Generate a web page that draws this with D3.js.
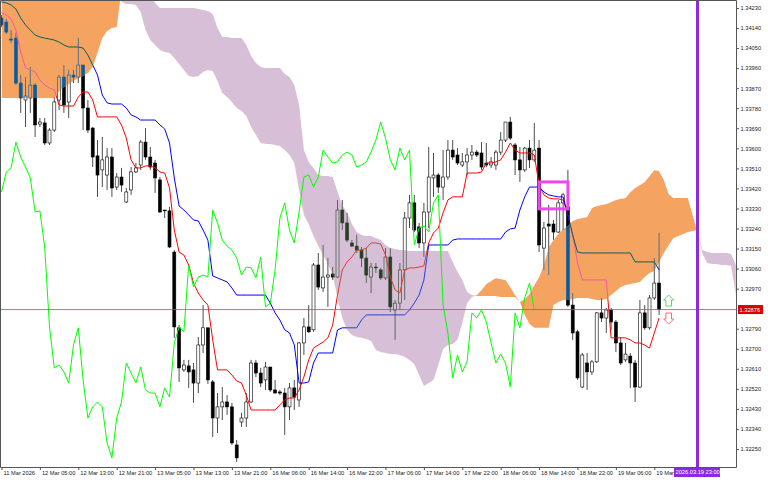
<!DOCTYPE html>
<html>
<head>
<meta charset="utf-8">
<script src="https://cdn.jsdelivr.net/npm/d3@7"></script>
<style>
  html, body { margin: 0; padding: 0; background: #fff; }
  svg { display: block; }
</style>
</head>
<body>
<div id="chart"></div>
<script>
// H1 candles, one entry per bar (bar 0 = 11 Mar 21:00)
const opens = [
  1.34185, 1.34167, 1.34091, 1.34095, 1.33893, 1.33817, 1.33826, 1.33884, 1.33709, 1.33714,
  1.33624, 1.33682, 1.33817, 1.33920, 1.33808, 1.33929, 1.33920, 1.33974, 1.33781, 1.33691,
  1.33566, 1.33503, 1.33480, 1.33561, 1.33426, 1.33471, 1.33359, 1.33413, 1.33494, 1.33525,
  1.33628, 1.33561, 1.33534, 1.33458, 1.33323, 1.33319, 1.33134, 1.32794, 1.32605, 1.32623,
  1.32605, 1.32546, 1.32717, 1.32794, 1.32551, 1.32389, 1.32439, 1.32461, 1.32439, 1.32268,
  1.32371, 1.32389, 1.32461, 1.32636, 1.32591, 1.32560, 1.32618, 1.32515, 1.32506, 1.32501,
  1.32439, 1.32524, 1.32470, 1.32726, 1.32798, 1.32785, 1.33076, 1.32973, 1.33022, 1.33036,
  1.33022, 1.33323, 1.33265, 1.33175, 1.33161, 1.33143, 1.33107, 1.33022, 1.33067, 1.33054,
  1.33018, 1.33112, 1.32874, 1.32905, 1.33054, 1.33287, 1.33355, 1.33247, 1.33175, 1.33314,
  1.33467, 1.33480, 1.33426, 1.33471, 1.33592, 1.33570, 1.33525, 1.33539, 1.33570, 1.33583,
  1.33579, 1.33534, 1.33525, 1.33525, 1.33583, 1.33637, 1.33718, 1.33615, 1.33548, 1.33503,
  1.33601, 1.33548, 1.33601, 1.33152, 1.33260, 1.33260, 1.33224, 1.33355, 1.33337, 1.32896,
  1.32776, 1.32528, 1.32636, 1.32596, 1.32641, 1.32861, 1.32838, 1.32874, 1.32820, 1.32726,
  1.32650, 1.32667, 1.32636, 1.32528, 1.32861, 1.32794, 1.32928, 1.32995
];
const highs = [
  1.34199, 1.34181, 1.34131, 1.34118, 1.33929, 1.33920, 1.33965, 1.33893, 1.33736, 1.33736,
  1.33691, 1.33830, 1.33929, 1.33974, 1.33952, 1.33952, 1.34095, 1.33974, 1.33817, 1.33696,
  1.33637, 1.33651, 1.33601, 1.33601, 1.33489, 1.33512, 1.33422, 1.33516, 1.33534, 1.33637,
  1.33691, 1.33606, 1.33548, 1.33471, 1.33323, 1.33337, 1.33143, 1.32807, 1.32650, 1.32650,
  1.32636, 1.32753, 1.32896, 1.32794, 1.32560, 1.32501, 1.32528, 1.32492, 1.32457, 1.32290,
  1.32412, 1.32501, 1.32650, 1.32650, 1.32614, 1.32641, 1.32618, 1.32560, 1.32515, 1.32524,
  1.32546, 1.32560, 1.32730, 1.32838, 1.32896, 1.33085, 1.33130, 1.33166, 1.33107, 1.33067,
  1.33368, 1.33368, 1.33310, 1.33188, 1.33211, 1.33157, 1.33152, 1.33085, 1.33085, 1.33063,
  1.33152, 1.33152, 1.32919, 1.33085, 1.33314, 1.33391, 1.33391, 1.33265, 1.33355, 1.33606,
  1.33579, 1.33489, 1.33592, 1.33637, 1.33637, 1.33601, 1.33579, 1.33601, 1.33615, 1.33592,
  1.33628, 1.33624, 1.33561, 1.33592, 1.33673, 1.33718, 1.33741, 1.33624, 1.33606, 1.33606,
  1.33637, 1.33714, 1.33637, 1.33269, 1.33346, 1.33278, 1.33368, 1.33400, 1.33503, 1.32950,
  1.32785, 1.32681, 1.32681, 1.32650, 1.32865, 1.32928, 1.32883, 1.32883, 1.32829, 1.32753,
  1.32726, 1.32681, 1.32650, 1.32919, 1.32896, 1.32941, 1.33107, 1.33220
];
const lows = [
  1.34145, 1.34113, 1.34073, 1.33884, 1.33759, 1.33696, 1.33759, 1.33651, 1.33696, 1.33615,
  1.33615, 1.33673, 1.33772, 1.33759, 1.33736, 1.33893, 1.33893, 1.33682, 1.33669, 1.33516,
  1.33382, 1.33426, 1.33413, 1.33382, 1.33413, 1.33404, 1.33355, 1.33391, 1.33489, 1.33503,
  1.33548, 1.33503, 1.33400, 1.33310, 1.33287, 1.33152, 1.32749, 1.32551, 1.32596, 1.32524,
  1.32457, 1.32501, 1.32681, 1.32542, 1.32304, 1.32322, 1.32380, 1.32403, 1.32268, 1.32192,
  1.32349, 1.32349, 1.32457, 1.32573, 1.32528, 1.32515, 1.32506, 1.32501, 1.32492, 1.32313,
  1.32380, 1.32425, 1.32439, 1.32672, 1.32771, 1.32776, 1.32964, 1.32955, 1.32888, 1.33009,
  1.33018, 1.33233, 1.33179, 1.33157, 1.33130, 1.33067, 1.32995, 1.32950, 1.33040, 1.33009,
  1.33009, 1.32865, 1.32740, 1.32874, 1.32919, 1.33242, 1.33224, 1.33152, 1.33112, 1.33242,
  1.33382, 1.33400, 1.33368, 1.33458, 1.33548, 1.33525, 1.33516, 1.33480, 1.33548, 1.33561,
  1.33503, 1.33516, 1.33512, 1.33503, 1.33570, 1.33628, 1.33637, 1.33480, 1.33449, 1.33494,
  1.33512, 1.33539, 1.33134, 1.33054, 1.33031, 1.33188, 1.33220, 1.33233, 1.32888, 1.32740,
  1.32560, 1.32524, 1.32515, 1.32582, 1.32636, 1.32820, 1.32771, 1.32785, 1.32685, 1.32627,
  1.32641, 1.32524, 1.32461, 1.32524, 1.32785, 1.32785, 1.32919, 1.32852
];
const closes = [
  1.34154, 1.34122, 1.34086, 1.33893, 1.33826, 1.33835, 1.33884, 1.33705, 1.33718, 1.33624,
  1.33682, 1.33808, 1.33920, 1.33795, 1.33929, 1.33920, 1.33974, 1.33781, 1.33682, 1.33561,
  1.33480, 1.33548, 1.33561, 1.33422, 1.33471, 1.33435, 1.33404, 1.33494, 1.33512, 1.33628,
  1.33561, 1.33516, 1.33467, 1.33314, 1.33319, 1.33157, 1.32798, 1.32614, 1.32627, 1.32596,
  1.32546, 1.32717, 1.32794, 1.32560, 1.32389, 1.32439, 1.32461, 1.32439, 1.32277, 1.32210,
  1.32389, 1.32461, 1.32636, 1.32591, 1.32546, 1.32618, 1.32515, 1.32501, 1.32501, 1.32439,
  1.32524, 1.32483, 1.32726, 1.32798, 1.32776, 1.33076, 1.32977, 1.33022, 1.33031, 1.33022,
  1.33323, 1.33265, 1.33188, 1.33161, 1.33143, 1.33107, 1.33031, 1.33067, 1.33063, 1.33018,
  1.33112, 1.32888, 1.32905, 1.33054, 1.33287, 1.33355, 1.33233, 1.33175, 1.33314, 1.33471,
  1.33480, 1.33426, 1.33471, 1.33592, 1.33561, 1.33534, 1.33539, 1.33570, 1.33583, 1.33570,
  1.33516, 1.33525, 1.33539, 1.33583, 1.33637, 1.33718, 1.33646, 1.33548, 1.33503, 1.33601,
  1.33548, 1.33592, 1.33166, 1.33242, 1.33251, 1.33224, 1.33355, 1.33391, 1.32896, 1.32771,
  1.32569, 1.32672, 1.32596, 1.32641, 1.32861, 1.32838, 1.32874, 1.32820, 1.32726, 1.32636,
  1.32676, 1.32636, 1.32528, 1.32861, 1.32794, 1.32928, 1.32995, 1.32876
];

// Ichimoku lines
const tenkan = [
  1.34208, 1.34199, 1.34181, 1.34131, 1.34033, 1.33961, 1.33952, 1.33943, 1.33907, 1.33884,
  1.33871, 1.33862, 1.33795, 1.33790, 1.33790, 1.33790, 1.33830, 1.33853, 1.33853, 1.33817,
  1.33741, 1.33741, 1.33741, 1.33741, 1.33741, 1.33705, 1.33646, 1.33548, 1.33512, 1.33512,
  1.33521, 1.33521, 1.33512, 1.33494, 1.33489, 1.33422, 1.33233, 1.33134, 1.33121, 1.33076,
  1.32995, 1.32950, 1.32919, 1.32896, 1.32740, 1.32605, 1.32605, 1.32605, 1.32582, 1.32555,
  1.32546, 1.32492, 1.32425, 1.32425, 1.32425, 1.32425, 1.32425, 1.32425, 1.32448, 1.32470,
  1.32479, 1.32479, 1.32515, 1.32573, 1.32650, 1.32703, 1.32717, 1.32730, 1.32749, 1.32807,
  1.32941, 1.33054, 1.33090, 1.33112, 1.33143, 1.33143, 1.33152, 1.33175, 1.33175, 1.33170,
  1.33121, 1.33022, 1.32964, 1.32950, 1.33054, 1.33063, 1.33063, 1.33067, 1.33072, 1.33175,
  1.33220, 1.33242, 1.33310, 1.33368, 1.33382, 1.33382, 1.33382, 1.33489, 1.33489, 1.33489,
  1.33494, 1.33534, 1.33534, 1.33539, 1.33548, 1.33583, 1.33624, 1.33592, 1.33579, 1.33579,
  1.33579, 1.33570, 1.33435, 1.33391, 1.33377, 1.33373, 1.33373, 1.33368, 1.33301, 1.33211,
  1.33085, 1.33009, 1.33009, 1.33009, 1.33009, 1.33009, 1.33009, 1.32749, 1.32749, 1.32749,
  1.32749, 1.32740, 1.32726, 1.32726, 1.32717, 1.32703, 1.32771, 1.32838
];
const kijun = [
  1.34257, 1.34253, 1.34244, 1.34226, 1.34185, 1.34154, 1.34131, 1.34109, 1.34100, 1.34095,
  1.34091, 1.34086, 1.34077, 1.34064, 1.34055, 1.34055, 1.34055, 1.34050, 1.34019, 1.33974,
  1.33929, 1.33839, 1.33804, 1.33799, 1.33799, 1.33799, 1.33781, 1.33750, 1.33741, 1.33727,
  1.33727, 1.33727, 1.33727, 1.33705, 1.33687, 1.33624, 1.33467, 1.33341, 1.33323, 1.33301,
  1.33278, 1.33274, 1.33233, 1.33188, 1.33027, 1.33018, 1.33009, 1.33000, 1.32973, 1.32941,
  1.32941, 1.32941, 1.32941, 1.32941, 1.32941, 1.32941, 1.32905, 1.32861, 1.32829, 1.32785,
  1.32771, 1.32717, 1.32546, 1.32546, 1.32551, 1.32636, 1.32681, 1.32681, 1.32681, 1.32681,
  1.32785, 1.32794, 1.32794, 1.32794, 1.32794, 1.32829, 1.32852, 1.32852, 1.32852, 1.32852,
  1.32852, 1.32852, 1.32852, 1.32852, 1.32852, 1.32874, 1.32905, 1.32941, 1.33009, 1.33166,
  1.33166, 1.33166, 1.33166, 1.33166, 1.33188, 1.33193, 1.33193, 1.33193, 1.33193, 1.33193,
  1.33193, 1.33193, 1.33193, 1.33193, 1.33193, 1.33224, 1.33238, 1.33242, 1.33323, 1.33382,
  1.33426, 1.33426, 1.33426, 1.33404, 1.33391, 1.33386, 1.33382, 1.33382, 1.33301, 1.33211,
  1.33134, 1.33130, 1.33130, 1.33130, 1.33130, 1.33130, 1.33130, 1.33130, 1.33130, 1.33130,
  1.33130, 1.33130, 1.33090, 1.33090, 1.33090, 1.33090, 1.33090, 1.33054
];
// Senkou spans, already shifted 26 bars forward (index = bar on screen)
const spanA = [
  1.34378, 1.34378, 1.34378, 1.34378, 1.34378, 1.34378, 1.34378, 1.34378, 1.34378, 1.34378,
  1.34378, 1.34378, 1.34378, 1.34378, 1.34378, 1.34378, 1.34378, 1.34378, 1.34378, 1.34378,
  1.34378, 1.34378, 1.34378, 1.34378, 1.34378, 1.34257, 1.34248, 1.34248, 1.34244, 1.34212,
  1.34131, 1.34086, 1.34064, 1.34042, 1.34033, 1.34028, 1.34006, 1.33979, 1.33952, 1.33925,
  1.33920, 1.33925, 1.33943, 1.33952, 1.33947, 1.33902, 1.33848, 1.33830, 1.33808, 1.33781,
  1.33768, 1.33745, 1.33696, 1.33660, 1.33624, 1.33619, 1.33619, 1.33615, 1.33610, 1.33592,
  1.33570, 1.33534, 1.33413, 1.33301, 1.33260, 1.33206, 1.33161, 1.33121, 1.33081, 1.33031,
  1.32928, 1.32838, 1.32785, 1.32762, 1.32753, 1.32749, 1.32744, 1.32735, 1.32694, 1.32685,
  1.32681, 1.32676, 1.32676, 1.32672, 1.32663, 1.32650, 1.32632, 1.32582, 1.32533, 1.32546,
  1.32560, 1.32627, 1.32699, 1.32717, 1.32721, 1.32740, 1.32816, 1.32905, 1.32932, 1.32941,
  1.32964, 1.32991, 1.33004, 1.33018, 1.33013, 1.33009, 1.32977, 1.32941, 1.32910, 1.32923,
  1.32946, 1.32986, 1.33022, 1.33076, 1.33157, 1.33188, 1.33215, 1.33238, 1.33251, 1.33274,
  1.33283, 1.33287, 1.33292, 1.33332, 1.33341, 1.33346, 1.33350, 1.33359, 1.33368, 1.33373,
  1.33377, 1.33404, 1.33422, 1.33435, 1.33449, 1.33476, 1.33503, 1.33498, 1.33458, 1.33395,
  1.33377, 1.33377, 1.33377, 1.33377, 1.33301, 1.33224, 1.33130, 1.33085, 1.33081, 1.33081,
  1.33076, 1.33076, 1.33072, 1.32941
];
const spanB = [
  1.33826, 1.33826, 1.33826, 1.33826, 1.33826, 1.33826, 1.33826, 1.33826, 1.33826, 1.33826,
  1.33826, 1.33826, 1.33857, 1.33875, 1.33889, 1.33902, 1.33916, 1.33925, 1.33938, 1.33965,
  1.34028, 1.34095, 1.34127, 1.34140, 1.34145, 1.34311, 1.34311, 1.34311, 1.34311, 1.34311,
  1.34302, 1.34288, 1.34253, 1.34230, 1.34230, 1.34230, 1.34230, 1.34230, 1.34230, 1.34230,
  1.34230, 1.34226, 1.34221, 1.34217, 1.34203, 1.34140, 1.34100, 1.34100, 1.34095, 1.34095,
  1.34095, 1.34064, 1.34015, 1.33983, 1.33965, 1.33961, 1.33961, 1.33961, 1.33961, 1.33934,
  1.33920, 1.33884, 1.33795, 1.33592, 1.33539, 1.33512, 1.33480, 1.33476, 1.33476, 1.33471,
  1.33404, 1.33346, 1.33310, 1.33260, 1.33224, 1.33211, 1.33206, 1.33206, 1.33197, 1.33188,
  1.33166, 1.33152, 1.33148, 1.33143, 1.33143, 1.33139, 1.33139, 1.33139, 1.33139, 1.33139,
  1.33139, 1.33139, 1.33139, 1.33139, 1.33090, 1.33045, 1.33009, 1.32955, 1.32941, 1.32937,
  1.32937, 1.32937, 1.32937, 1.32937, 1.32932, 1.32932, 1.32932, 1.32932, 1.32910, 1.32852,
  1.32811, 1.32794, 1.32794, 1.32794, 1.32794, 1.32896, 1.32910, 1.32919, 1.32919, 1.32923,
  1.32928, 1.32928, 1.32928, 1.32923, 1.32919, 1.32919, 1.32923, 1.32941, 1.32959, 1.32977,
  1.32986, 1.32991, 1.32995, 1.33000, 1.33022, 1.33040, 1.33049, 1.33090, 1.33130, 1.33166,
  1.33197, 1.33206, 1.33215, 1.33224, 1.33229, 1.33233, 1.33143, 1.33134, 1.33130, 1.33130,
  1.33130, 1.33130, 1.33125, 1.33076
];
const chikouShift = 26;

// axis labels (the last one is partly hidden under the line's time tag)
const timeBars = [0, 8, 16, 24, 32, 40, 48, 56, 64, 72, 80, 88, 96, 104, 112, 120, 128, 136];
const timeLabels = [
  '11 Mar 2026', '12 Mar 05:00', '12 Mar 13:00', '12 Mar 21:00', '13 Mar 05:00', '13 Mar 13:00',
  '13 Mar 21:00', '16 Mar 06:00', '16 Mar 14:00', '16 Mar 22:00', '17 Mar 06:00', '17 Mar 14:00',
  '17 Mar 22:00', '18 Mar 06:00', '18 Mar 14:00', '18 Mar 22:00', '19 Mar 06:00', '19 Mar'
];
const priceTicks = [
  1.34230, 1.34140, 1.34050, 1.33960, 1.33870, 1.33780, 1.33690, 1.33600, 1.33510, 1.33420,
  1.33330, 1.33240, 1.33150, 1.33060, 1.32970, 1.32790, 1.32700, 1.32610, 1.32520, 1.32430,
  1.32340, 1.32250
];
const lastPrice = 1.32876;

// chart objects
const vlineBar = 145;
const vlineLabel = '2026.03.19 23:00';
const boxBars = [112, 118];
const boxPrices = [1.33449, 1.33328];
const arrowBar = 139;
const upArrowPrice = 1.32941;
const downArrowPrice = 1.32811;

const width = 768;
const height = 480;
const plotW = 736;
const plotH = 467;
const font = "'Liberation Sans', Arial, sans-serif";
const fontSize = 5.7;

// colours the terminal gets when the cloud is xor-ed over the price marks
const palettes = {
  plain: { bear: '#000', bull: '#fff', edge: '#000', tenkan: '#ff0000', kijun: '#0000ff' },
  orange: { bear: '#0b5b9f', bull: '#f4a460', edge: '#0b5b9f', tenkan: '#f45b9f', kijun: '#0b5b60' },
  thistle: { bear: '#274027', bull: '#d8bfd8', edge: '#274027', tenkan: '#d84027', kijun: '#2740d8' },
};

const x = d3.scaleLinear().domain([0, 153]).range([1.5, 735.9]);
const y = d3.scaleLinear().domain([1.32169, 1.34266]).range([plotH, 0]);

d3.select('#chart').selectAll('svg').remove();
const svg = d3
  .select('#chart')
  .append('svg')
  .attr('width', width)
  .attr('height', height);

svg.append('rect').attr('width', width).attr('height', height).attr('fill', '#fff');

const defs = svg.append('defs');
defs.append('clipPath').attr('id', 'plot-clip')
  .append('rect').attr('width', plotW).attr('height', plotH);

const cloudBars = d3.range(spanA.length);
const belowA = d3.area().x((i) => x(i)).y0(plotH + 60).y1((i) => y(spanA[i]));
const aboveA = d3.area().x((i) => x(i)).y0(-60).y1((i) => y(spanA[i]));
const between = d3.area().x((i) => x(i)).y0((i) => y(spanB[i])).y1((i) => y(spanA[i]));
defs.append('clipPath').attr('id', 'below-a').append('path').attr('d', belowA(cloudBars));
defs.append('clipPath').attr('id', 'above-a').append('path').attr('d', aboveA(cloudBars));
defs.append('clipPath').attr('id', 'cloud').append('path').attr('d', between(cloudBars));

const plot = svg.append('g').attr('clip-path', 'url(#plot-clip)');

const bars = d3.range(closes.length);
const lineGen = d3.line().x((d, i) => x(i)).y((d) => y(d));

// candles + tenkan + kijun in one colour set
function drawPrices(g, pal) {
  g.append('g')
    .selectAll('line')
    .data(bars)
    .join('line')
    .attr('x1', (i) => x(i))
    .attr('x2', (i) => x(i))
    .attr('y1', (i) => y(highs[i]))
    .attr('y2', (i) => y(lows[i]))
    .attr('stroke', pal.edge)
    .attr('stroke-width', 0.7);
  g.append('g')
    .selectAll('rect')
    .data(bars)
    .join('rect')
    .attr('x', (i) => x(i) - 1.5)
    .attr('width', 3)
    .attr('y', (i) => y(Math.max(opens[i], closes[i])))
    .attr('height', (i) => Math.max(0.8, Math.abs(y(opens[i]) - y(closes[i]))))
    .attr('fill', (i) => (closes[i] > opens[i] ? pal.bull : pal.bear))
    .attr('stroke', pal.edge)
    .attr('stroke-width', 0.6);
  g.append('path').attr('d', lineGen(tenkan))
    .attr('fill', 'none').attr('stroke', pal.tenkan).attr('stroke-width', 1);
  g.append('path').attr('d', lineGen(kijun))
    .attr('fill', 'none').attr('stroke', pal.kijun).attr('stroke-width', 1);
}

drawPrices(plot.append('g'), palettes.plain);

// cloud fill: sandy brown where A is above B, thistle where B is above A
plot.append('g').attr('clip-path', 'url(#below-a)')
  .append('path').attr('d', between(cloudBars)).attr('fill', '#f4a460');
plot.append('g').attr('clip-path', 'url(#above-a)')
  .append('path').attr('d', between(cloudBars)).attr('fill', '#d8bfd8');

// price marks again inside the cloud, in the inverted colours
drawPrices(
  plot.append('g').attr('clip-path', 'url(#below-a)').append('g').attr('clip-path', 'url(#cloud)'),
  palettes.orange,
);
drawPrices(
  plot.append('g').attr('clip-path', 'url(#above-a)').append('g').attr('clip-path', 'url(#cloud)'),
  palettes.thistle,
);

// chikou = closes drawn 26 bars back
plot.append('path')
  .attr('d', lineGen(closes.slice(chikouShift)))
  .attr('fill', 'none')
  .attr('stroke', '#00ff00')
  .attr('stroke-width', 1);

// bid line
plot.append('line')
  .attr('x1', 0).attr('x2', plotW)
  .attr('y1', y(lastPrice)).attr('y2', y(lastPrice))
  .attr('stroke', '#f03a3a').attr('stroke-width', 0.8);

// vertical line object
plot.append('line')
  .attr('x1', x(vlineBar)).attr('x2', x(vlineBar))
  .attr('y1', 0).attr('y2', plotH)
  .attr('stroke', '#8a2be2').attr('stroke-width', 3);

// rectangle object
plot.append('rect')
  .attr('x', x(boxBars[0]))
  .attr('y', y(boxPrices[0]))
  .attr('width', x(boxBars[1]) - x(boxBars[0]))
  .attr('height', y(boxPrices[1]) - y(boxPrices[0]))
  .attr('fill', 'none')
  .attr('stroke', '#f245f2')
  .attr('stroke-width', 3);

// arrow objects
const ax = x(arrowBar);
const upTop = y(upArrowPrice);
const downBottom = y(downArrowPrice);
plot.append('path')
  .attr('d', `M${ax},${upTop} l5,5 h-2.2 v6 h-5.6 v-6 h-2.2 Z`)
  .attr('fill', '#fff').attr('stroke', '#4fd14f').attr('stroke-width', 0.9);
plot.append('path')
  .attr('d', `M${ax},${downBottom} l5,-5 h-2.2 v-6 h-5.6 v6 h-2.2 Z`)
  .attr('fill', '#fff').attr('stroke', '#ff5a5a').attr('stroke-width', 0.9);

// frame
svg.append('path')
  .attr('d', `M0.5,${plotH + 0.5} V0.5 H${plotW + 0.5} V${plotH + 0.5} Z`)
  .attr('fill', 'none')
  .attr('stroke', '#555')
  .attr('stroke-width', 1);

// price axis
const yAxis = svg.append('g')
  .attr('transform', `translate(${plotW},0)`)
  .call(d3.axisRight(y).tickValues(priceTicks).tickFormat(d3.format('.5f'))
    .tickSize(3).tickPadding(1.5));
yAxis.select('.domain').remove();
yAxis.selectAll('line').attr('stroke', '#555');
yAxis.selectAll('text')
  .attr('font-family', font).attr('font-size', fontSize).attr('fill', '#222');

// time axis
const xAxis = svg.append('g')
  .attr('transform', `translate(0,${plotH})`)
  .call(d3.axisBottom(x).tickValues(timeBars).tickFormat((d, k) => timeLabels[k])
    .tickSize(3).tickPadding(0.5));
xAxis.select('.domain').remove();
xAxis.selectAll('line').attr('stroke', '#555');
xAxis.selectAll('text')
  .attr('font-family', font).attr('font-size', fontSize).attr('fill', '#222')
  .attr('text-anchor', 'start').attr('x', 1.5);

// current price tag
const tagY = y(lastPrice);
svg.append('rect')
  .attr('x', plotW + 2).attr('y', tagY - 4.5)
  .attr('width', 25).attr('height', 9)
  .attr('fill', '#d90000');
svg.append('text')
  .attr('x', plotW + 3.5).attr('y', tagY)
  .attr('dy', '0.35em')
  .attr('font-family', font).attr('font-size', fontSize).attr('fill', '#fff')
  .text(d3.format('.5f')(lastPrice));

// vertical line time tag
svg.append('rect')
  .attr('x', x(vlineBar) - 23.5).attr('y', plotH + 1)
  .attr('width', 46).attr('height', 9)
  .attr('fill', '#8a2be2');
svg.append('text')
  .attr('x', x(vlineBar) - 22).attr('y', plotH + 5.5)
  .attr('dy', '0.35em')
  .attr('font-family', font).attr('font-size', fontSize).attr('fill', '#fff')
  .text(vlineLabel);
</script>
</body>
</html>
